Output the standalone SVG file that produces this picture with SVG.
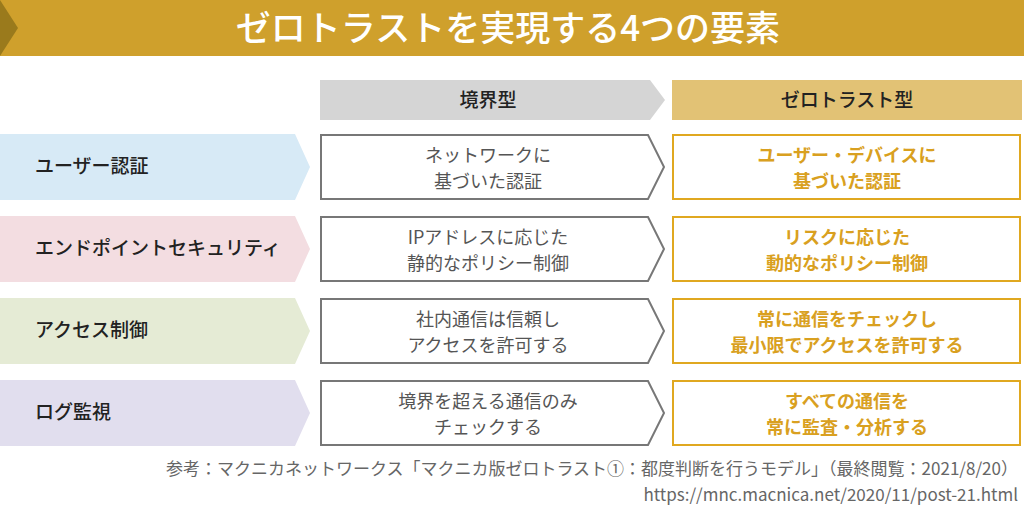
<svg xmlns="http://www.w3.org/2000/svg" width="1024" height="511" viewBox="0 0 1024 511">
<style>
text{font-family:"Noto Sans CJK JP","Noto Sans",sans-serif}
.lab{font-size:19px;fill:#222;font-weight:500}
.mid{font-size:18px;fill:#555;text-anchor:middle}
.zt{font-size:18px;fill:#D9A020;text-anchor:middle;font-weight:bold}
.mbox{fill:#fff;stroke:#777;stroke-width:2}
.zbox{fill:#fff;stroke:#E0A820;stroke-width:2}
.src{font-size:17px;fill:#666;text-anchor:end}
</style>
<g id="title">
<rect x="0" y="0" width="1024" height="56" fill="#CFA02C"/>
<polygon points="0,0 0,56 18,28" fill="#9A7A1C"/>
<text x="508" y="41" font-size="35" fill="#fff" text-anchor="middle" font-weight="500">ゼロトラストを実現する4つの要素</text>
</g>
<g id="header">
<polygon points="320,80 650,80 665,100 650,120 320,120" fill="#D5D5D5"/>
<text x="488" y="107" font-size="19" fill="#222" text-anchor="middle" font-weight="500">境界型</text>
<rect x="672" y="80" width="350" height="40" fill="#E2C275"/>
<text x="847" y="107" font-size="19" fill="#222" text-anchor="middle" font-weight="500">ゼロトラスト型</text>
</g>
<g id="row1">
<polygon points="0,134 295,134 310,167 295,200 0,200" fill="#D7EAF6"/>
<text class="lab" x="35" y="173">ユーザー認証</text>
<polygon class="mbox" points="321,135 648,135 664,167 648,199 321,199"/>
<text class="mid" x="488" y="162">ネットワークに</text><text class="mid" x="488" y="188">基づいた認証</text>
<rect class="zbox" x="673" y="135" width="347" height="64"/>
<text class="zt" x="847" y="162">ユーザー・デバイスに</text><text class="zt" x="847" y="188">基づいた認証</text>
</g>
<g id="row2">
<polygon points="0,216 295,216 310,249 295,282 0,282" fill="#F3DDE1"/>
<text class="lab" x="35" y="255">エンドポイントセキュリティ</text>
<polygon class="mbox" points="321,217 648,217 664,249 648,281 321,281"/>
<text class="mid" x="488" y="244">IPアドレスに応じた</text><text class="mid" x="488" y="270">静的なポリシー制御</text>
<rect class="zbox" x="673" y="217" width="347" height="64"/>
<text class="zt" x="847" y="244">リスクに応じた</text><text class="zt" x="847" y="270">動的なポリシー制御</text>
</g>
<g id="row3">
<polygon points="0,298 295,298 310,331 295,364 0,364" fill="#E5EBD5"/>
<text class="lab" x="35" y="337">アクセス制御</text>
<polygon class="mbox" points="321,299 648,299 664,331 648,363 321,363"/>
<text class="mid" x="488" y="326">社内通信は信頼し</text><text class="mid" x="488" y="352">アクセスを許可する</text>
<rect class="zbox" x="673" y="299" width="347" height="64"/>
<text class="zt" x="847" y="326">常に通信をチェックし</text><text class="zt" x="847" y="352">最小限でアクセスを許可する</text>
</g>
<g id="row4">
<polygon points="0,380 295,380 310,413 295,446 0,446" fill="#E1DEEE"/>
<text class="lab" x="35" y="419">ログ監視</text>
<polygon class="mbox" points="321,381 648,381 664,413 648,445 321,445"/>
<text class="mid" x="488" y="408">境界を超える通信のみ</text><text class="mid" x="488" y="434">チェックする</text>
<rect class="zbox" x="673" y="381" width="347" height="64"/>
<text class="zt" x="847" y="408">すべての通信を</text><text class="zt" x="847" y="434">常に監査・分析する</text>
</g>
<g id="connectors"/>
<g id="source">
<text class="src" x="1018" y="475">参考：マクニカネットワークス「マクニカ版ゼロトラスト①：都度判断を行うモデル」（最終閲覧：2021/8/20）</text>
<text class="src" x="1018" y="501">https://mnc.macnica.net/2020/11/post-21.html</text>
</g>
</svg>
